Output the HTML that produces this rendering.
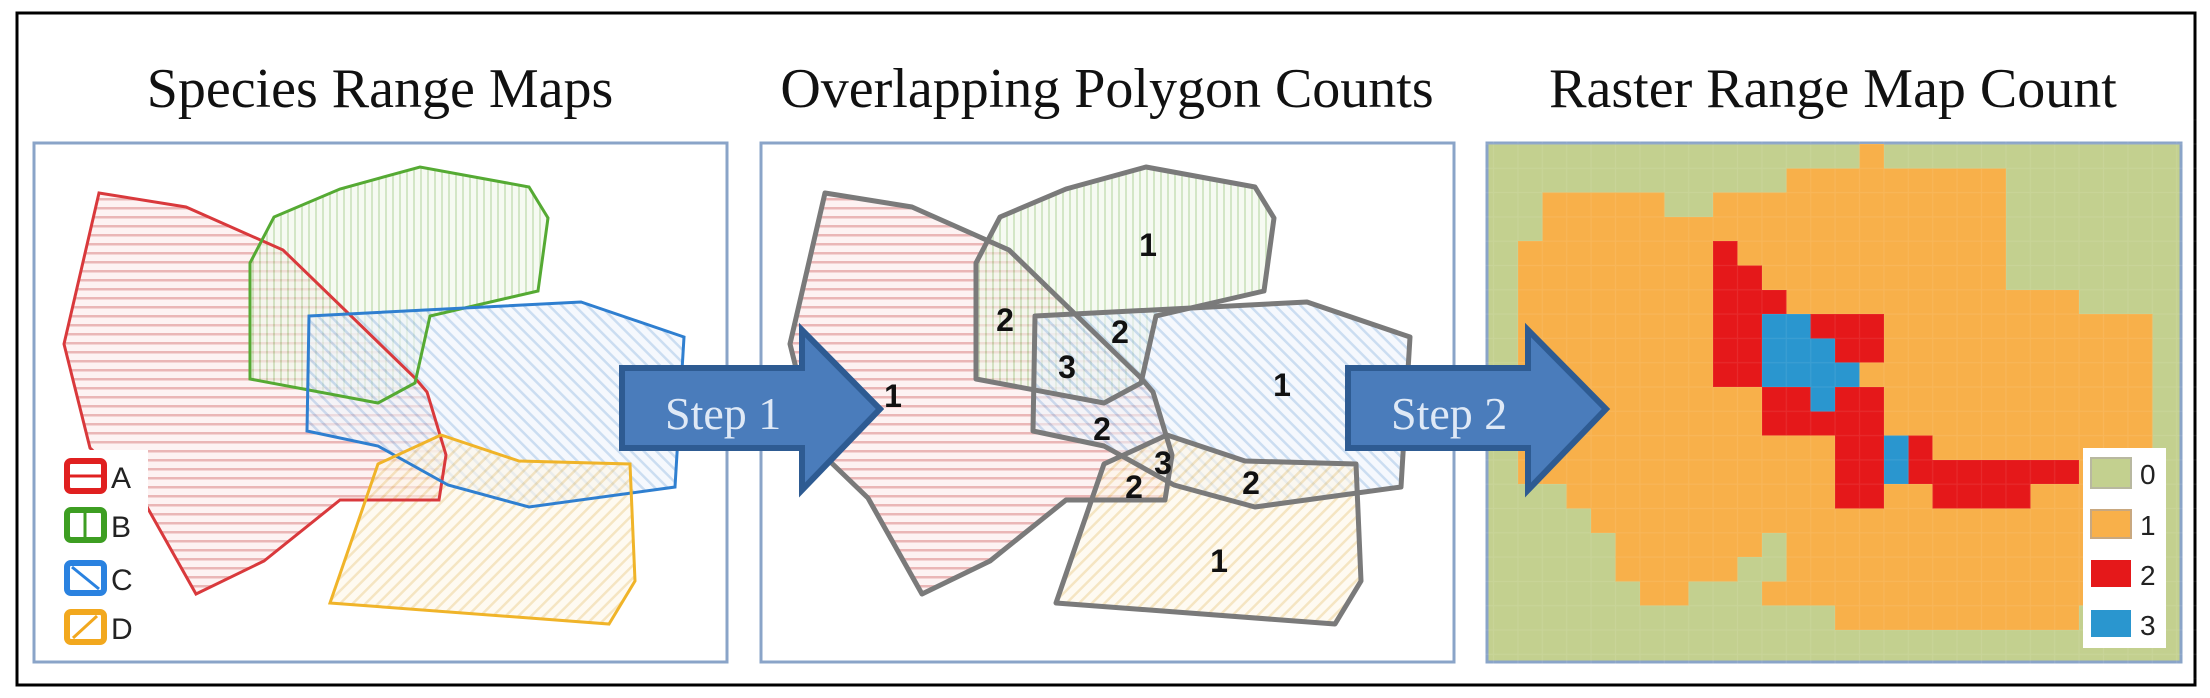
<!DOCTYPE html>
<html><head><meta charset="utf-8"><style>
html,body{margin:0;padding:0;background:#fff;}
svg{display:block;}
</style></head><body>
<svg width="2210" height="698" viewBox="0 0 2210 698" xmlns="http://www.w3.org/2000/svg">
<defs>
<pattern id="pr" width="10" height="9" patternUnits="userSpaceOnUse"><rect width="10" height="9" fill="#fdf0f0"/><rect y="0" width="10" height="2.5" fill="#e6a9a9"/></pattern>
<pattern id="pg" width="7" height="10" patternUnits="userSpaceOnUse"><rect width="7" height="10" fill="#f0f7ea"/><rect x="0" width="2" height="10" fill="#b5d6a0"/></pattern>
<pattern id="pb" width="9" height="9" patternUnits="userSpaceOnUse" patternTransform="rotate(-45)"><rect width="9" height="9" fill="#eef4fb"/><rect width="2.5" height="9" fill="#a9c6e8"/></pattern>
<pattern id="py" width="9" height="9" patternUnits="userSpaceOnUse" patternTransform="rotate(45)"><rect width="9" height="9" fill="#fdf6e8"/><rect width="2.5" height="9" fill="#efd49a"/></pattern>
<pattern id="grid" width="1" height="1" patternUnits="userSpaceOnUse"><rect width="1" height="1" fill="none" stroke="#ffffff" stroke-opacity="0.08" stroke-width="0.05"/></pattern>
</defs>

<rect x="17" y="13" width="2178" height="672" fill="#fff" stroke="#000" stroke-width="3"/>

<g font-family="Liberation Serif, serif" font-size="56" fill="#111" text-anchor="middle">
<text x="380" y="107">Species Range Maps</text>
<text x="1107" y="107">Overlapping Polygon Counts</text>
<text x="1833" y="107">Raster Range Map Count</text>
</g>

<!-- Panel 1 -->
<rect x="34" y="143" width="693" height="519" fill="#fff" stroke="#8aa4c8" stroke-width="3"/>
<g>
<polygon points="99,193 186,207 283,250 415,378 427,392 446,455 439,500 340,500 264,561 196,594 142,498 90,448 64,344" fill="url(#pr)" fill-opacity="0.85"/>
<polygon points="250,263 274,217 340,189 420,167 529,187 548,218 538,291 430,316 415,383 378,403 250,379" fill="url(#pg)" fill-opacity="0.6"/>
<polygon points="309,316 581,302 684,337 675,487 529,507 448,485 378,446 307,431" fill="url(#pb)" fill-opacity="0.6"/>
<polygon points="330,603 378,464 441,435 519,461 630,464 635,581 609,624" fill="url(#py)" fill-opacity="0.6"/>
</g>
<g fill="none" stroke-width="3">
<polygon points="99,193 186,207 283,250 415,378 427,392 446,455 439,500 340,500 264,561 196,594 142,498 90,448 64,344" stroke="#d9393c"/>
<polygon points="250,263 274,217 340,189 420,167 529,187 548,218 538,291 430,316 415,383 378,403 250,379" stroke="#55aa33"/>
<polygon points="309,316 581,302 684,337 675,487 529,507 448,485 378,446 307,431" stroke="#2f7fd0"/>
<polygon points="330,603 378,464 441,435 519,461 630,464 635,581 609,624" stroke="#f0b429"/>
</g>
<rect x="58" y="450" width="90" height="205" fill="#fff"/>
<g stroke-width="6">
<rect x="67" y="461" width="37" height="30" rx="4" fill="#fff" stroke="#e02020"/>
<rect x="67" y="510" width="37" height="30" rx="4" fill="#fff" stroke="#3d9e22"/>
<rect x="67" y="563" width="37" height="30" rx="4" fill="#fff" stroke="#2a82e0"/>
<rect x="67" y="612" width="37" height="30" rx="4" fill="#fff" stroke="#f2a81e"/>
</g>
<g stroke-width="3">
<line x1="70" y1="476" x2="101" y2="476" stroke="#e02020"/>
<line x1="85" y1="513" x2="85" y2="537" stroke="#3d9e22"/>
<line x1="72" y1="567" x2="99" y2="589" stroke="#2a82e0"/>
<line x1="73" y1="638" x2="97" y2="616" stroke="#f2a81e"/>
</g>
<g font-family="Liberation Sans, sans-serif" font-size="30" fill="#222">
<text x="111" y="488">A</text><text x="111" y="537">B</text><text x="111" y="590">C</text><text x="111" y="639">D</text>
</g>

<!-- Panel 2 -->
<rect x="761" y="143" width="693" height="519" fill="#fff" stroke="#8aa4c8" stroke-width="3"/>
<g transform="translate(726,0)">
<polygon points="99,193 186,207 283,250 415,378 427,392 446,455 439,500 340,500 264,561 196,594 142,498 90,448 64,344" fill="url(#pr)" fill-opacity="0.85"/>
<polygon points="250,263 274,217 340,189 420,167 529,187 548,218 538,291 430,316 415,383 378,403 250,379" fill="url(#pg)" fill-opacity="0.6"/>
<polygon points="309,316 581,302 684,337 675,487 529,507 448,485 378,446 307,431" fill="url(#pb)" fill-opacity="0.6"/>
<polygon points="330,603 378,464 441,435 519,461 630,464 635,581 609,624" fill="url(#py)" fill-opacity="0.6"/>
<g fill="none" stroke="#7a7a7a" stroke-width="5" stroke-linejoin="round">
<polygon points="99,193 186,207 283,250 415,378 427,392 446,455 439,500 340,500 264,561 196,594 142,498 90,448 64,344"/>
<polygon points="250,263 274,217 340,189 420,167 529,187 548,218 538,291 430,316 415,383 378,403 250,379"/>
<polygon points="309,316 581,302 684,337 675,487 529,507 448,485 378,446 307,431"/>
<polygon points="330,603 378,464 441,435 519,461 630,464 635,581 609,624"/>
</g>
</g>
<g font-family="Liberation Sans, sans-serif" font-size="32" font-weight="bold" fill="#111" text-anchor="middle">
<text x="1148" y="256">1</text>
<text x="1005" y="331">2</text>
<text x="1120" y="343">2</text>
<text x="1067" y="378">3</text>
<text x="1282" y="396">1</text>
<text x="893" y="407">1</text>
<text x="1102" y="440">2</text>
<text x="1163" y="474">3</text>
<text x="1134" y="498">2</text>
<text x="1251" y="494">2</text>
<text x="1219" y="572">1</text>
</g>

<!-- Panel 3 -->
<rect x="1487" y="143" width="694" height="519" fill="#c3d08f" stroke="#8aa4c8" stroke-width="3"/>
<g transform="translate(1493.5,144) scale(24.4,24.3)" shape-rendering="crispEdges">
<g fill="#f8b04a">
<rect x="15" y="0" width="1" height="1"/>
<rect x="12" y="1" width="9" height="1"/>
<rect x="2" y="2" width="5" height="1"/><rect x="9" y="2" width="12" height="1"/>
<rect x="2" y="3" width="19" height="1"/>
<rect x="1" y="4" width="20" height="2"/>
<rect x="1" y="6" width="23" height="1"/>
<rect x="1" y="7" width="26" height="7"/>
<rect x="3" y="14" width="24" height="1"/>
<rect x="4" y="15" width="23" height="1"/>
<rect x="5" y="16" width="6" height="1"/><rect x="12" y="16" width="15" height="1"/>
<rect x="5" y="17" width="5" height="1"/><rect x="12" y="17" width="15" height="1"/>
<rect x="6" y="18" width="2" height="1"/><rect x="11" y="18" width="16" height="1"/>
<rect x="14" y="19" width="10" height="1"/>
</g>
<g fill="#e5181a">
<rect x="9" y="4" width="1" height="1"/>
<rect x="9" y="5" width="2" height="1"/>
<rect x="9" y="6" width="3" height="1"/>
<rect x="9" y="7" width="2" height="3"/>
<rect x="13" y="7" width="3" height="1"/>
<rect x="14" y="8" width="2" height="1"/>
<rect x="11" y="10" width="2" height="1"/><rect x="14" y="10" width="2" height="1"/>
<rect x="11" y="11" width="5" height="1"/>
<rect x="14" y="12" width="2" height="3"/>
<rect x="17" y="12" width="1" height="1"/>
<rect x="17" y="13" width="7" height="1"/>
<rect x="18" y="14" width="4" height="1"/>
</g>
<g fill="#2a96cf">
<rect x="11" y="7" width="2" height="1"/>
<rect x="11" y="8" width="3" height="1"/>
<rect x="11" y="9" width="4" height="1"/>
<rect x="13" y="10" width="1" height="1"/>
<rect x="16" y="12" width="1" height="2"/>
</g>
<rect x="-1" y="-1" width="30" height="23" fill="url(#grid)"/>
</g>
<rect x="2083" y="448" width="83" height="200" fill="#fff"/>
<rect x="2091" y="458" width="40" height="30" fill="#c3d08f" stroke="#b8b8a0" stroke-width="2"/>
<rect x="2091" y="510" width="40" height="28" fill="#f8b04a" stroke="#c8a880" stroke-width="2"/>
<rect x="2091" y="560" width="40" height="27" fill="#e5181a"/>
<rect x="2091" y="610" width="40" height="27" fill="#2a96cf"/>
<g font-family="Liberation Sans, sans-serif" font-size="28" fill="#222">
<text x="2140" y="484">0</text><text x="2140" y="535">1</text><text x="2140" y="585">2</text><text x="2140" y="635">3</text>
</g>

<!-- Arrows -->
<g stroke="#2e5b92" stroke-width="6" stroke-linejoin="miter" fill="#4a7cbb">
<path d="M622,368 L802,368 L802,330 L880,409 L802,490 L802,448 L622,448 Z"/>
<path d="M1348,368 L1528,368 L1528,330 L1606,409 L1528,490 L1528,448 L1348,448 Z"/>
</g>
<g font-family="Liberation Serif, serif" font-size="46" fill="#dfe9f6">
<text x="665" y="429">Step 1</text>
<text x="1391" y="429">Step 2</text>
</g>
</svg>
</body></html>
